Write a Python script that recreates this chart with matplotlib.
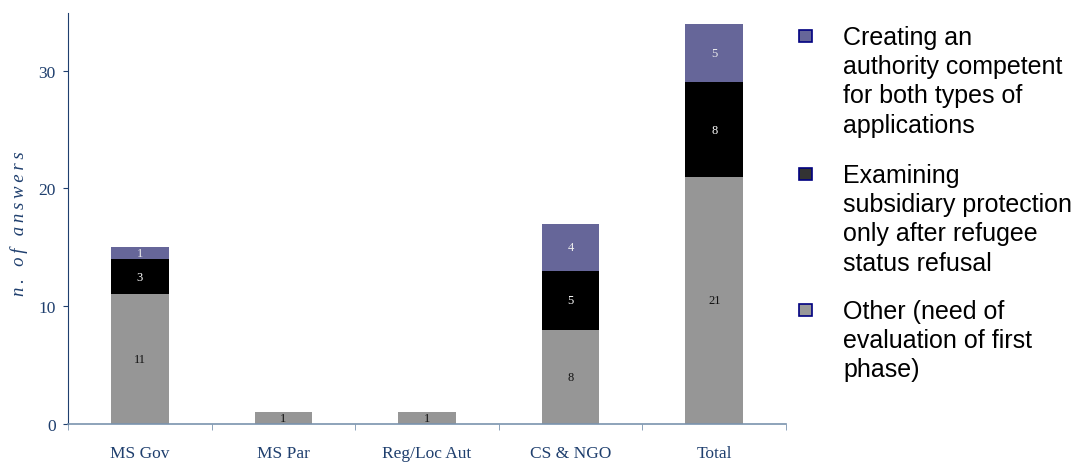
import matplotlib.pyplot as plt
from matplotlib.patches import Rectangle
import numpy as np

categories = ["MS Gov", "MS Par", "Reg/Loc Aut", "CS & NGO", "Total"]
other = [11, 1, 1, 8, 21]
examining = [3, 0, 0, 5, 8]
creating = [1, 0, 0, 4, 5]

legend_lines = [
    ["Creating an", "authority competent", "for both types of", "applications"],
    ["Examining", "subsidiary protection", "only after refugee", "status refusal"],
    ["Other (need of", "evaluation of first", "phase)"],
]

c_other = "#969696"
c_exam = "#000000"
c_create = "#666699"
legend_faces = ["#666699", "#333333", "#999999"]
navy = "#1F3F6E"
axis_grey = "#7A93AE"

W, H = 1078, 464
fig = plt.figure(figsize=(W / 100, H / 100), dpi=100)
ax = fig.add_axes([68 / W, 1 - 425 / H, (786 - 68) / W, (425 - 14) / H])

x = np.arange(len(categories))
w = 0.4
other_a = np.array(other)
exam_a = np.array(examining)
create_a = np.array(creating)

ax.bar(x, other_a, w, color=c_other)
ax.bar(x, exam_a, w, bottom=other_a, color=c_exam)
ax.bar(x, create_a, w, bottom=other_a + exam_a, color=c_create)

serif = "Liberation Serif"
for i in range(len(x)):
    if other_a[i] > 0:
        ax.text(x[i], other_a[i] / 2, str(other_a[i]), ha="center", va="center",
                fontsize=9, family=serif, color="#111111")
    if exam_a[i] > 0:
        ax.text(x[i], other_a[i] + exam_a[i] / 2, str(exam_a[i]), ha="center", va="center",
                fontsize=9, family=serif, color="white")
    if create_a[i] > 0:
        ax.text(x[i], other_a[i] + exam_a[i] + create_a[i] / 2, str(create_a[i]),
                ha="center", va="center", fontsize=9, family=serif, color="#eeeeee")

ax.set_xlim(-0.5, len(categories) - 0.5)
ax.set_ylim(0, 34.9)
ax.set_yticks([0, 10, 20, 30])
ax.set_xticks(x)
ax.set_xticklabels(categories, family=serif, fontsize=12.5, color=navy)
ax.tick_params(axis="x", length=0, pad=15)
ax.set_xticks(np.arange(-0.5, len(categories), 1.0), minor=True)
ax.tick_params(axis="x", which="minor", length=4, color=axis_grey, direction="out")
ax.tick_params(axis="y", length=3.5, color=navy, labelcolor=navy, direction="out", pad=5.5)
for lab in ax.get_yticklabels():
    lab.set_family(serif)
    lab.set_fontsize(12.5)

ax.spines["top"].set_visible(False)
ax.spines["right"].set_visible(False)
ax.spines["left"].set_color(navy)
ax.spines["bottom"].set_color(axis_grey)
ax.spines["bottom"].set_linewidth(1.2)

ylabel = "\u2009".join("n. of answers")
fig.text(19 / W, 1 - 224 / H, ylabel, family=serif, style="italic", fontsize=13.5,
         color=navy, rotation=90, ha="center", va="center")

# legend drawn manually
baselines = [45, 183, 319]
line_step = 29.2
for k, lines in enumerate(legend_lines):
    b0 = baselines[k]
    fig.patches.append(Rectangle((799 / W, 1 - (b0 - 2) / H), 13 / W, 12 / H,
                                 transform=fig.transFigure, facecolor=legend_faces[k],
                                 edgecolor="#000080", linewidth=1.2))
    for j, s in enumerate(lines):
        fig.text(843 / W, 1 - (b0 + j * line_step) / H, s, family="Liberation Sans",
                 fontsize=18, color="black", ha="left", va="baseline")

fig.savefig("out.png", dpi=100)
